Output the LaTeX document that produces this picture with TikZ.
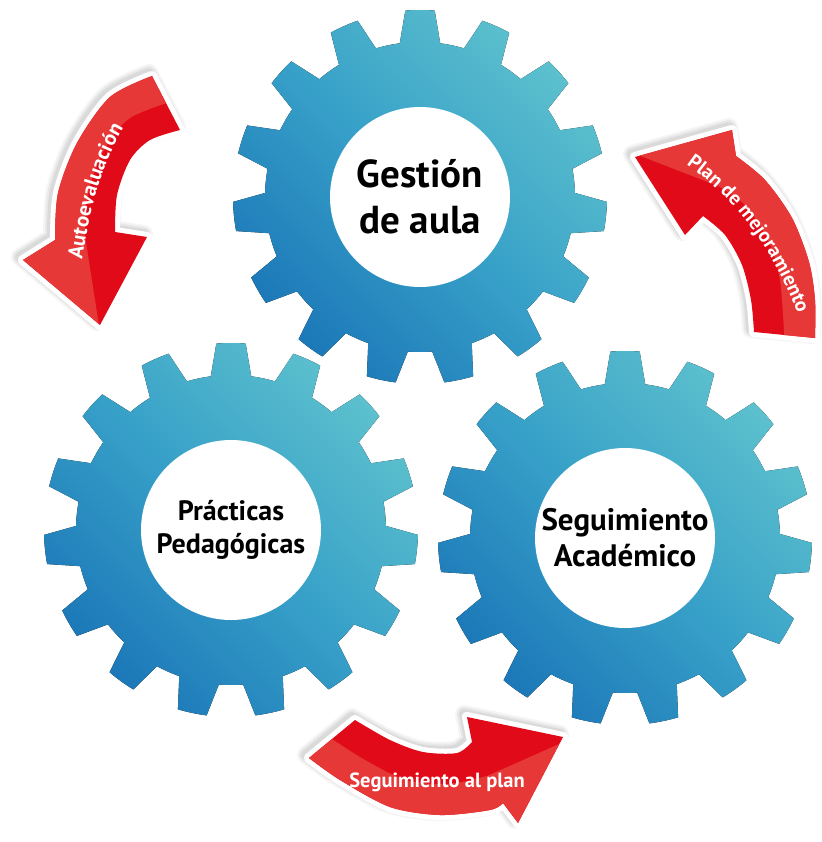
\documentclass[tikz,border=0pt]{standalone}
\usepackage{fontspec}
\setmainfont{PT Sans}
\usetikzlibrary{decorations.text}
\definecolor{gearlight}{RGB}{92,192,205}
\definecolor{gearmid}{RGB}{55,160,200}
\definecolor{geardark}{RGB}{28,120,184}
\definecolor{arrowdark}{RGB}{224,10,24}
\definecolor{arrowlight}{RGB}{231,56,56}
\newcommand\arrowfontA{\color{white}\bfseries\fontsize{21}{21}\selectfont}
\newcommand\arrowfontB{\color{white}\bfseries\fontsize{20}{20}\selectfont}
\newcommand\arrowfontC{\color{white}\bfseries\fontsize{20.5}{20.5}\selectfont}
% arrow outlines
\newcommand\arrowApath{(152,76) -- plot[smooth] coordinates {(152,76) (110,97) (77,143) (58,193) (55,240)} -- (23,260) -- (100,325) -- (147,237) -- plot[smooth] coordinates {(115,232) (117,195) (130,160) (150,140) (180,130)} -- cycle}
\newcommand\arrowAlight{(100,40) -- (-10,200) -- (-10,300) -- (100,332) -- plot[smooth] coordinates {(85,236) (88,194) (103,152) (130,118) (185,97)} -- (190,50) -- cycle}
\newcommand\arrowBpath{(635,157) -- (732,130) -- plot[smooth] coordinates {(736,156) (765,180) (792,218) (809,262) (815,300) (815,338)} -- plot[smooth] coordinates {(754,332) (751,300) (742,265) (725,235) (703,216)} -- (685,235) -- cycle}
\newcommand\arrowBlight{(625,150) -- plot[smooth] coordinates {(718,186) (745,205) (768,240) (780,280) (785,350)} -- (840,350) -- (840,110) -- (625,110) -- cycle}
\newcommand\arrowCpath{(309,758) -- plot[smooth] coordinates {(355,720) (390,740) (423,752) (457,753) (472,742)} -- (467,717) -- (563,737) -- (518,823) -- plot[smooth] coordinates {(503,803) (490,810) (440,815) (390,807) (340,780) (309,758)} -- cycle}
\newcommand\arrowClight{(300,737) -- plot[smooth] coordinates {(332,739) (365,760) (406,780) (448,784) (487,776)} -- (575,737) -- (575,845) -- (295,845) -- cycle}
\newcommand\redarrow[2]{%
  \foreach \w/\o in {18/0.04,14/0.05,10/0.06}{\draw[line width=\w, line join=round, draw=black, opacity=\o, shift={(-3,-3)}] #1;}
  \filldraw[white, line width=10, line join=round] #1;
  \fill[arrowdark] #1;
  \begin{scope}\clip #1; \fill[arrowlight] #2; \end{scope}
}
\tikzset{
  gear/.pic={
    \fill[top color=gearlight, bottom color=geardark, middle color=gearmid, shading angle=-45]
      (262.5:155) \foreach \k in {0,...,14}{
        -- ({270+24*\k-7.5}:155) -- ({270+24*\k-4.5}:187)
        arc[start angle={270+24*\k-4.5}, end angle={270+24*\k+4.5}, radius=187]
        -- ({270+24*\k+7.5}:155)
        arc[start angle={270+24*\k+7.5}, end angle={270+24*\k+16.5}, radius=155]
      } -- cycle;
  },
  hub/.style={circle, fill=white, minimum size=180, inner sep=0, align=center, text=black},
  labelC/.style={font=\arrowfontC, anchor=base, inner sep=0}
}
\begin{document}
\begin{tikzpicture}[x=1pt,y=-1pt]
\useasboundingbox (0,0) rectangle (821,842);
\fill[white] (0,0) rectangle (821,842);
% gears
\pic at (420,197) {gear};
\pic at (231,530) {gear};
\pic at (625,538) {gear};
\node[hub, font={\fontsize{39}{46}\selectfont\bfseries}] (gestion) at (420,197) {Gestión\\de aula};
\node[hub, font={\fontsize{28}{33}\selectfont\bfseries}] (practicas) at (231,530) {Prácticas\\Pedagógicas};
\node[hub, font={\fontsize{31}{36}\selectfont\bfseries}] (seguimiento) at (625,538) {Seguimiento\\Académico};
% arrows
\redarrow{\arrowApath}{\arrowAlight}
\redarrow{\arrowBpath}{\arrowBlight}
\redarrow{\arrowCpath}{\arrowClight}
\path[decorate, decoration={text along path, text align=center, text={|\arrowfontA|Autoevaluación}}] (80,275) .. controls (87,220) and (100,160) .. (132,115);
\path[decorate, decoration={text along path, text align=center, text={|\arrowfontB|Plan de mejoramiento}}] (676,158) .. controls (720,185) and (770,235) .. (802,325);
\node[labelC] (segplan) at (437,787) {Seguimiento al plan};
\end{tikzpicture}
\end{document}
